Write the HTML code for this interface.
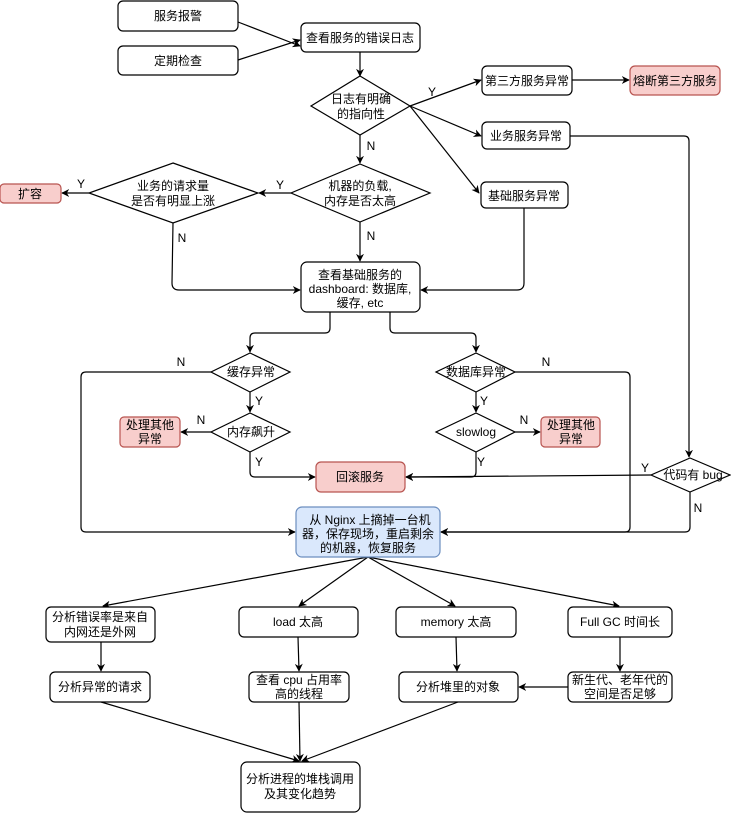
<!DOCTYPE html>
<html><head><meta charset="utf-8"><style>
html,body{margin:0;padding:0;background:#fff;}
svg text{font-family:"Liberation Sans","Noto Sans CJK SC",sans-serif;font-size:12px;fill:#000;}
</style></head><body>
<svg width="731" height="813" viewBox="0 0 731 813" xmlns="http://www.w3.org/2000/svg">
<defs>
<marker id="a" viewBox="0 0 10 10" refX="9" refY="5" markerWidth="8" markerHeight="8" orient="auto" markerUnits="userSpaceOnUse"><path d="M0,0 L10,5 L0,10 L3,5 z" fill="#000"/></marker>
</defs>
<g fill="none" stroke="#000" stroke-width="1.2" marker-end="url(#a)">
<path d="M238,22 L300,46"/>
<path d="M238,60 L300,40"/>
<path d="M360,52 L360,76"/>
<path d="M410,106 L481,80"/>
<path d="M572,80 L629,80"/>
<path d="M410,106 L481,136"/>
<path d="M410,106 L479,193"/>
<path d="M360,135 L360,163"/>
<path d="M291,193 L259,193"/>
<path d="M89,193 L62,193"/>
<path d="M360,222 L360,261"/>
<path d="M173,223 L172,283 Q172,290 179,290 L300,290"/>
<path d="M524,208 L524,283 Q524,290 517,290 L421,290"/>
<path d="M330,312 L330,328 Q330,333 325,333 L255,333 Q250,333 250,338 L250,352"/>
<path d="M390,312 L390,328 Q390,333 395,333 L471,333 Q476,333 476,338 L476,352"/>
<path d="M250,392 L250,412"/>
<path d="M476,392 L476,412"/>
<path d="M211,432 L181,432"/>
<path d="M515,432 L540,432"/>
<path d="M250,452 L250,472 Q250,477 255,477 L315,477"/>
<path d="M476,452 L476,472 Q476,477 471,477 L406,477"/>
<path d="M651,475 L406,477"/>
<path d="M570,136 L684,136 Q689,136 689,141 L689,457"/>
<path d="M211,372 L86,372 Q81,372 81,377 L81,527 Q81,532 86,532 L295,532"/>
<path d="M515,372 L625,372 Q630,372 630,377 L630,527 Q630,532 625,532 L441,532"/>
<path d="M690,492 L690,527 Q690,532 685,532 L441,532"/>
<path d="M368,557 L103,606"/>
<path d="M368,557 L299,606"/>
<path d="M368,557 L455,606"/>
<path d="M368,557 L619,606"/>
<path d="M101,642 L101,671"/>
<path d="M298,637 L299,671"/>
<path d="M456,637 L457,671"/>
<path d="M620,637 L620,671"/>
<path d="M568,687 L519,687"/>
<path d="M101,702 L299,761"/>
<path d="M299,702 L300,761"/>
<path d="M458,702 L302,761"/>
</g>
<g stroke="#000" stroke-width="1.2" fill="#fff">
<rect x="118" y="1" width="120" height="30" rx="5"/>
<rect x="118" y="46" width="120" height="29" rx="5"/>
<rect x="301" y="23" width="119" height="29" rx="5"/>
<polygon points="360,76 410,106 360,135 311,106"/>
<rect x="482" y="66" width="90" height="29" rx="5"/>
<rect x="630" y="66" width="90" height="29" rx="5" fill="#f8cecc" stroke="#b85450"/>
<rect x="482" y="122" width="88" height="27" rx="5"/>
<rect x="481" y="182" width="87" height="26" rx="5"/>
<polygon points="360,164 430,193 360,222 291,193"/>
<polygon points="173,163 258,193 173,223 89,193"/>
<rect x="0" y="184" width="61" height="19" rx="4" fill="#f8cecc" stroke="#b85450"/>
<rect x="301" y="262" width="119" height="50" rx="6"/>
<polygon points="250,353 290,372 250,392 211,372"/>
<polygon points="476,353 515,372 476,392 436,372"/>
<polygon points="250,413 290,432 250,452 211,432"/>
<polygon points="476,413 515,432 476,452 436,432"/>
<rect x="120" y="417" width="60" height="30" rx="4" fill="#f8cecc" stroke="#b85450"/>
<rect x="541" y="417" width="59" height="30" rx="4" fill="#f8cecc" stroke="#b85450"/>
<rect x="316" y="462" width="89" height="30" rx="5" fill="#f8cecc" stroke="#b85450"/>
<polygon points="690,458 730,475 690,492 651,475"/>
<rect x="296" y="507" width="144" height="50" rx="6" fill="#dae8fc" stroke="#6c8ebf"/>
<rect x="46" y="607" width="109" height="35" rx="5"/>
<rect x="239" y="607" width="119" height="30" rx="5"/>
<rect x="396" y="607" width="120" height="30" rx="5"/>
<rect x="568" y="607" width="104" height="30" rx="5"/>
<rect x="50" y="672" width="100" height="30" rx="5"/>
<rect x="249" y="672" width="100" height="30" rx="5"/>
<rect x="399" y="672" width="119" height="30" rx="5"/>
<rect x="568" y="672" width="104" height="30" rx="5"/>
<rect x="241" y="762" width="119" height="50" rx="6"/>
</g>
<g text-anchor="middle">
<text x="178" y="20">服务报警</text>
<text x="178" y="65">定期检查</text>
<text x="360" y="42">查看服务的错误日志</text>
<text x="361" y="103">日志有明确</text>
<text x="361" y="118">的指向性</text>
<text x="527" y="85">第三方服务异常</text>
<text x="675" y="85">熔断第三方服务</text>
<text x="526" y="140">业务服务异常</text>
<text x="524" y="200">基础服务异常</text>
<text x="360" y="190">机器的负载,</text>
<text x="360" y="205">内存是否太高</text>
<text x="173" y="190">业务的请求量</text>
<text x="173" y="205">是否有明显上涨</text>
<text x="30" y="198">扩容</text>
<text x="360" y="279">查看基础服务的</text>
<text x="360" y="293">dashboard: 数据库,</text>
<text x="360" y="307">缓存, etc</text>
<text x="251" y="376">缓存异常</text>
<text x="476" y="376">数据库异常</text>
<text x="251" y="436">内存飙升</text>
<text x="476" y="436">slowlog</text>
<text x="150" y="429">处理其他</text>
<text x="150" y="443">异常</text>
<text x="571" y="429">处理其他</text>
<text x="571" y="443">异常</text>
<text x="360" y="481">回滚服务</text>
<text x="693" y="479">代码有 bug</text>
<text x="370" y="524">从 Nginx 上摘掉一台机</text>
<text x="368" y="538">器，保存现场，重启剩余</text>
<text x="368" y="552">的机器，恢复服务</text>
<text x="100" y="621">分析错误率是来自</text>
<text x="100" y="636">内网还是外网</text>
<text x="298" y="626">load 太高</text>
<text x="456" y="626">memory 太高</text>
<text x="620" y="626">Full GC 时间长</text>
<text x="100" y="691">分析异常的请求</text>
<text x="299" y="684">查看 cpu 占用率</text>
<text x="299" y="698">高的线程</text>
<text x="458" y="691">分析堆里的对象</text>
<text x="620" y="684">新生代、老年代的</text>
<text x="620" y="698">空间是否足够</text>
<text x="300" y="783">分析进程的堆栈调用</text>
<text x="300" y="798">及其变化趋势</text>
<text x="432" y="96">Y</text>
<text x="371" y="150">N</text>
<text x="280" y="189">Y</text>
<text x="81" y="188">Y</text>
<text x="182" y="242">N</text>
<text x="371" y="240">N</text>
<text x="181" y="366">N</text>
<text x="546" y="366">N</text>
<text x="259" y="405">Y</text>
<text x="201" y="424">N</text>
<text x="259" y="466">Y</text>
<text x="484" y="405">Y</text>
<text x="524" y="424">N</text>
<text x="481" y="466">Y</text>
<text x="645" y="472">Y</text>
<text x="698" y="512">N</text>
</g>
</svg>
</body></html>
